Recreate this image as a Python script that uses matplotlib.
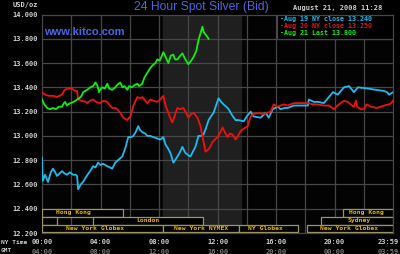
import matplotlib
matplotlib.use('Agg')
import matplotlib.pyplot as plt
from matplotlib.patches import Rectangle

# Datos (hora NY, precio USD/oz)
green_h = [0.00, 0.15, 0.35, 0.55, 0.75, 0.95, 1.15, 1.37, 1.50, 1.58, 1.70, 1.78, 1.95, 2.15, 2.30, 2.40,
           2.55, 2.70, 2.81, 2.95, 3.10, 3.30, 3.50, 3.65, 3.77, 3.90, 3.98, 4.12, 4.30, 4.46, 4.60, 4.80,
           5.01, 5.14, 5.35, 5.50, 5.65, 5.83, 5.95, 6.15, 6.35, 6.52, 6.65, 6.86, 7.00, 7.20, 7.41, 7.55,
           7.75, 7.89, 8.05, 8.30, 8.45, 8.64, 8.80, 8.98, 9.10, 9.26, 9.45, 9.60, 9.80, 10.01, 10.20,
           10.36, 10.55, 10.70, 10.85, 10.97, 11.04, 11.15, 11.28, 11.39]
green_p = [13.30, 13.26, 13.23, 13.22, 13.23, 13.22, 13.24, 13.24, 13.27, 13.28, 13.25, 13.26, 13.27, 13.28,
           13.29, 13.30, 13.31, 13.33, 13.36, 13.37, 13.38, 13.40, 13.41, 13.44, 13.42, 13.36, 13.38, 13.40,
           13.39, 13.43, 13.39, 13.38, 13.40, 13.42, 13.44, 13.40, 13.41, 13.38, 13.41, 13.40, 13.42, 13.43,
           13.41, 13.43, 13.48, 13.52, 13.56, 13.58, 13.60, 13.63, 13.62, 13.69, 13.65, 13.60, 13.66, 13.67,
           13.63, 13.63, 13.66, 13.68, 13.63, 13.59, 13.62, 13.65, 13.70, 13.79, 13.85, 13.90, 13.86, 13.84,
           13.82, 13.80]

red_h = [0.00, 0.20, 0.45, 0.75, 1.00, 1.20, 1.37, 1.50, 1.58, 1.80, 2.06, 2.25, 2.40, 2.47, 2.70, 3.00,
         3.09, 3.30, 3.50, 3.70, 3.98, 4.20, 4.46, 4.65, 4.80, 5.00, 5.14, 5.35, 5.56, 5.70, 5.83, 5.95,
         6.04, 6.25, 6.52, 6.70, 6.86, 7.05, 7.20, 7.40, 7.60, 7.89, 8.09, 8.30, 8.45, 8.64, 8.80, 8.92,
         9.05, 9.26, 9.45, 9.67, 9.85, 10.01, 10.20, 10.36, 10.50, 10.63, 10.84, 11.00, 11.18, 11.39,
         11.55, 11.66, 12.00, 12.20, 12.35, 12.50, 12.69, 12.85, 13.03, 13.24, 13.40, 13.58, 13.80, 14.06,
         14.27, 14.47, 14.80, 15.16, 15.43, 15.64, 15.84, 16.10, 16.32, 16.53, 16.80, 17.22, 17.60, 18.18,
         18.50, 18.80, 19.27, 19.62, 19.96, 20.20, 20.64, 20.90, 21.20, 21.33, 21.47, 21.55, 21.80, 22.02,
         22.20, 22.50, 22.90, 23.39, 23.73, 23.90, 24.00]
red_p = [13.36, 13.34, 13.33, 13.33, 13.32, 13.33, 13.34, 13.37, 13.38, 13.39, 13.39, 13.37, 13.37, 13.30,
         13.29, 13.28, 13.27, 13.29, 13.30, 13.28, 13.27, 13.29, 13.28, 13.25, 13.23, 13.23, 13.22, 13.19,
         13.15, 13.14, 13.13, 13.15, 13.16, 13.25, 13.32, 13.31, 13.32, 13.29, 13.27, 13.30, 13.29, 13.28,
         13.30, 13.33, 13.25, 13.19, 13.14, 13.11, 13.16, 13.23, 13.22, 13.23, 13.19, 13.15, 13.18, 13.19,
         13.17, 13.15, 13.08, 12.98, 12.87, 12.89, 12.92, 12.95, 12.99, 13.03, 13.07, 13.03, 12.99, 13.02,
         13.01, 12.97, 13.00, 13.04, 13.06, 13.08, 13.16, 13.18, 13.19, 13.18, 13.19, 13.20, 13.26, 13.24,
         13.25, 13.26, 13.25, 13.27, 13.27, 13.27, 13.26, 13.26, 13.25, 13.25, 13.22, 13.25, 13.29, 13.28,
         13.25, 13.24, 13.29, 13.24, 13.22, 13.22, 13.26, 13.24, 13.23, 13.25, 13.26, 13.27, 13.29]

blue_h = [0.00, 0.05, 0.21, 0.41, 0.60, 0.75, 0.90, 1.03, 1.20, 1.37, 1.55, 1.71, 1.90, 2.13, 2.30, 2.40,
          2.47, 2.65, 2.81, 3.00, 3.29, 3.50, 3.65, 3.84, 4.00, 4.18, 4.46, 4.65, 4.80, 5.01, 5.20, 5.49,
          5.70, 5.90, 6.10, 6.24, 6.40, 6.58, 6.70, 6.86, 7.05, 7.20, 7.40, 7.61, 7.85, 8.09, 8.30, 8.44,
          8.60, 8.78, 8.98, 9.10, 9.26, 9.45, 9.60, 9.80, 10.01, 10.15, 10.36, 10.49, 10.70, 10.90, 11.04,
          11.20, 11.39, 11.55, 11.73, 11.90, 12.07, 12.25, 12.41, 12.60, 12.76, 13.00, 13.24, 13.44, 13.79,
          14.00, 14.27, 14.40, 14.47, 14.95, 15.30, 15.50, 15.78, 16.12, 16.32, 16.60, 16.80, 17.22, 17.80,
          18.18, 18.24, 18.59, 18.90, 19.27, 19.62, 19.89, 20.23, 20.64, 20.99, 21.20, 21.33, 21.60, 22.29,
          22.80, 23.39, 23.60, 23.73, 24.00]
blue_p = [12.82, 12.63, 12.68, 12.62, 12.70, 12.73, 12.70, 12.67, 12.69, 12.71, 12.69, 12.68, 12.70, 12.68,
          12.68, 12.67, 12.56, 12.60, 12.62, 12.66, 12.71, 12.75, 12.74, 12.78, 12.76, 12.77, 12.75, 12.74,
          12.73, 12.78, 12.80, 12.83, 12.90, 12.99, 12.99, 13.00, 13.03, 13.08, 13.05, 13.03, 13.02, 13.00,
          13.00, 12.99, 12.98, 12.97, 12.99, 12.93, 12.90, 12.86, 12.78, 12.80, 12.83, 12.87, 12.91, 12.86,
          12.84, 12.83, 12.88, 12.91, 13.00, 13.00, 13.01, 13.06, 13.13, 13.16, 13.19, 13.25, 13.31, 13.28,
          13.26, 13.24, 13.22, 13.17, 13.13, 13.13, 13.12, 13.16, 13.20, 13.17, 13.16, 13.15, 13.19, 13.15,
          13.22, 13.24, 13.22, 13.23, 13.23, 13.25, 13.25, 13.25, 13.30, 13.28, 13.28, 13.27, 13.32, 13.36,
          13.34, 13.40, 13.41, 13.38, 13.36, 13.40, 13.39, 13.38, 13.37, 13.36, 13.34, 13.36]

legend_labels = ['-Aug 19 NY close 13.240', '-Aug 20 NY close 13.250', '-Aug 21 Last 13.800']
y_ticks = [12.2, 12.4, 12.6, 12.8, 13.0, 13.2, 13.4, 13.6, 13.8, 14.0]
# la ultima etiqueta (23:59) va un poco hacia dentro para no cortarse
x_ticks = [0, 4, 8, 12, 16, 20, 23.65]
ny_labels = ['00:00', '04:00', '08:00', '12:00', '16:00', '20:00', '23:59']
gmt_labels = ['04:00', '08:00', '12:00', '16:00', '20:00', '00:00', '03:59']

# sesiones: (inicio, fin, fila, nombre, centro del texto)
sessions = [
    (0, 5.55, 0, 'Hong Kong', 2.13),
    (20.6, 24, 0, 'Hong Kong', 22.15),
    (0, 1.03, 1, '', 0),
    (3.5, 11.0, 1, 'London', 7.25),
    (19.1, 24, 1, 'Sydney', 21.7),
    (0, 8.25, 2, 'New York Globex', 3.64),
    (8.25, 13.5, 2, 'New York NYMEX', 10.9),
    (13.5, 17.5, 2, 'NY Globex', 15.3),
    (18.1, 24, 2, 'New York Globex', 21.0),
]

blue = '#1cbcee'
red = '#f01010'
green = '#10ee10'
grid_c = '#474747'
mono = 'DejaVu Sans Mono'

fig = plt.figure(figsize=(4, 2.54), dpi=100, facecolor='black')
ax = fig.add_axes([42 / 400, 21 / 254, 351 / 400, 218.5 / 254])
ax.set_facecolor('#030303')
ax.set_xlim(0, 24)
ax.set_ylim(12.2, 14.0)

# zona sombreada (horario NYMEX)
ax.axvspan(8.3, 13.6, color='#1f1f1f', zorder=0)

for h in range(2, 24, 2):
    ax.axvline(h, color=grid_c, lw=0.9, zorder=1)
for y in y_ticks[1:-1]:
    ax.axhline(y, color=grid_c, lw=0.9, zorder=1)
for s in ax.spines.values():
    s.set_color(grid_c)
    s.set_linewidth(0.9)

ax.plot(blue_h, blue_p, color=blue, lw=1.3, zorder=4)
ax.plot(red_h, red_p, color=red, lw=1.3, zorder=4)
ax.plot(green_h, green_p, color=green, lw=1.3, zorder=5)

# cuadro de leyenda
ax.add_patch(Rectangle((16.1, 13.8), 7.9, 0.2, facecolor='black', edgecolor=grid_c, lw=0.9, zorder=6))
for lab, col, yy in zip(legend_labels, [blue, red, green], [13.962, 13.905, 13.848]):
    ax.text(16.25, yy, lab, color=col, fontsize=4.8, family=mono, weight='bold', va='center', zorder=7)

# barras de sesiones
row_top = [12.40, 12.335, 12.27]
row_h = 0.065
for x0, x1, row, name, cx in sessions:
    ax.add_patch(Rectangle((x0, row_top[row] - row_h), x1 - x0, row_h, facecolor='black',
                           edgecolor='#9a9462', lw=0.9, zorder=6))
    if name:
        ax.text(cx, row_top[row] - row_h / 2, name, color='#e8b400', fontsize=4.6, family=mono,
                weight='bold', ha='center', va='center', zorder=7)

ax.set_yticks(y_ticks)
ax.set_yticklabels([f'{v:.3f}' for v in y_ticks], family=mono, weight='bold')
ax.set_xticks(x_ticks)
ax.set_xticklabels(ny_labels, family=mono, weight='bold')
ax.tick_params(length=0, labelsize=5.0, colors='#cfcfcf', pad=3)
ax.tick_params(axis='x', pad=4)

for xt, lab in zip(x_ticks, gmt_labels):
    ax.text(xt, -0.085, lab, transform=ax.get_xaxis_transform(), color='#7a7a7a', fontsize=5.0,
            family=mono, weight='bold', ha='center', va='center')

fig.text(1 / 400, 1 - 242 / 254, 'NY Time', color='#cfcfcf', fontsize=4.4, family=mono,
         weight='bold', va='center')
fig.text(1 / 400, 1 - 250 / 254, 'GMT', color='#cfcfcf', fontsize=4.4, family=mono,
         weight='bold', va='center')
fig.text(13 / 400, 1 - 5 / 254, 'USD/oz', color='#cfcfcf', fontsize=5.0, family=mono,
         weight='bold', va='center')
fig.text(293 / 400, 1 - 8 / 254, 'August 21, 2008 11:28', color='#cfcfcf', fontsize=5.0,
         family=mono, weight='bold', va='center')
fig.text(201 / 400, 1 - 7 / 254, '24 Hour Spot Silver (Bid)', color='#4a66e0', fontsize=8.7,
         family='Liberation Sans', ha='center', va='center')
fig.text(44 / 400, 1 - 32 / 254, 'www.kitco.com', color='#4a66e0', fontsize=8.0,
         family='Liberation Sans', weight='bold', va='center')

fig.savefig('out.png', dpi=100, facecolor='black')
